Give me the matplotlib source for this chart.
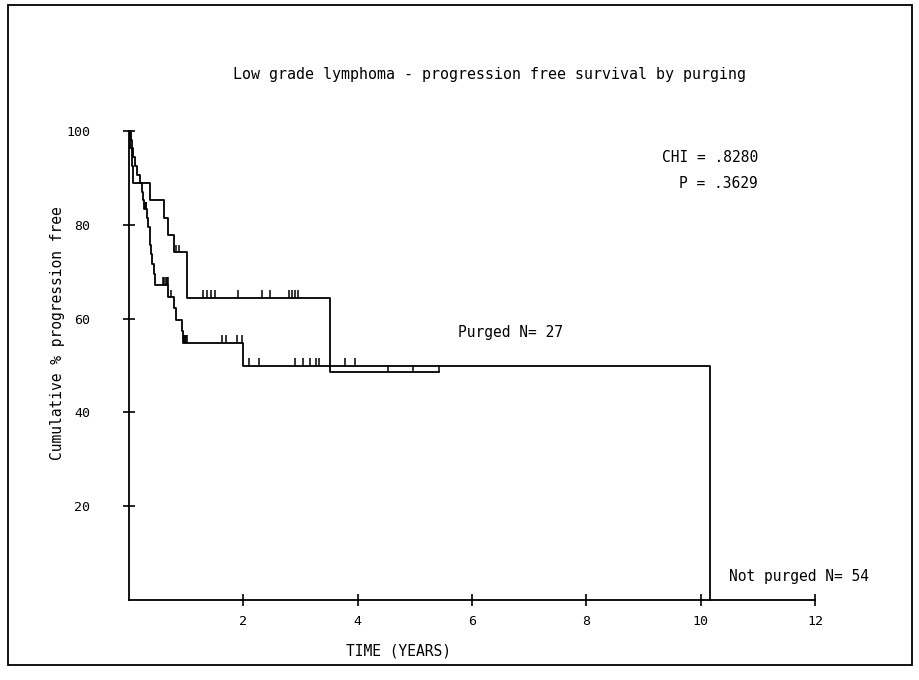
import matplotlib.pyplot as plt
import numpy as np
from matplotlib.patches import Rectangle

plt.rcParams["font.family"] = "DejaVu Sans Mono"
plt.rcParams["font.size"] = 10.5

# purged group, N=27: step times (years) and cumulative % after each step
purged_t = [0, 0.02, 0.05, 0.07, 0.36, 0.62, 0.68, 0.79, 1.01, 3.51, 5.42]
purged_s = [100, 96.3, 92.6, 88.9, 85.2, 81.5, 77.8, 74.1, 64.4, 48.6, 48.6]
purged_cens = [0.82, 0.87, 1.29, 1.36, 1.43, 1.50, 1.91, 2.33, 2.47, 2.80,
               2.85, 2.90, 2.95, 4.53, 4.97, 5.42]

# not purged group, N=54
notp_t = [0, 0.03, 0.05, 0.07, 0.10, 0.14, 0.19, 0.23, 0.25, 0.27, 0.32,
          0.34, 0.36, 0.37, 0.39, 0.41, 0.43, 0.45, 0.69, 0.79, 0.82, 0.92,
          0.95, 2.00, 10.17]
notp_s = [100, 98.1, 96.3, 94.4, 92.6, 90.7, 88.9, 87.0, 85.2, 83.3, 81.4,
          79.5, 77.6, 75.6, 73.7, 71.7, 69.6, 67.2, 64.6, 62.2, 59.7, 57.3,
          54.8, 49.9, 0]
notp_cens = [0.28, 0.29, 0.30, 0.60, 0.62, 0.64, 0.66, 0.68, 0.73, 0.96,
             0.98, 1.00, 1.02, 1.63, 1.70, 1.89, 1.98, 2.10, 2.27, 2.90,
             3.04, 3.16, 3.27, 3.32, 3.78, 3.95]

x_ticks = [2, 4, 6, 8, 10, 12]
y_ticks = [20, 40, 60, 80, 100]

title = "Low grade lymphoma - progression free survival by purging"
chi_text = "CHI = .8280"
p_text = "P = .3629"


def value_at(times, values, when):
    idx = np.searchsorted(times, when, side="right") - 1
    return np.asarray(values)[idx]


fig = plt.figure(figsize=(9.2, 6.8), dpi=100)
ax = fig.add_axes([129 / 920, 80 / 680, 686 / 920, 469 / 680])

for t, s, cens in [(purged_t, purged_s, purged_cens),
                   (notp_t, notp_s, notp_cens)]:
    ax.step(t, s, where="post", color="black", lw=1.3, clip_on=False)
    cs = value_at(t, s, cens)
    ax.vlines(cens, cs, cs + 1.6, color="black", lw=1.1)

ax.set_xlim(0, 12)
ax.set_ylim(0, 100)
ax.set_xticks(x_ticks)
ax.set_yticks(y_ticks)
for side in ["top", "right"]:
    ax.spines[side].set_visible(False)
for side in ["left", "bottom"]:
    ax.spines[side].set_linewidth(1.3)
ax.tick_params(axis="both", direction="inout", length=8, width=1.2,
               labelsize=9.5)
ax.tick_params(axis="x", pad=7)
ax.tick_params(axis="y", pad=24)

ax.set_xlabel("TIME (YEARS)")
ax.xaxis.set_label_coords((398 - 129) / 686, -0.092)
ax.set_ylabel("Cumulative % progression free")
ax.yaxis.set_label_coords(-0.093, 0.57)

fig.text(490 / 920, 1 - 75 / 680, title, ha="center", va="center",
         fontsize=10.8)
fig.text(758 / 920, 1 - 157 / 680, chi_text, ha="right", va="center")
fig.text(758 / 920, 1 - 184 / 680, p_text, ha="right", va="center")
ax.text(5.75, 57, "Purged N= 27", ha="left", va="center")
ax.text(10.5, 5, "Not purged N= 54", ha="left", va="center")

fig.add_artist(Rectangle((8 / 920, 1 - 665 / 680), 904 / 920, 660 / 680,
                         transform=fig.transFigure, fill=False,
                         edgecolor="black", lw=1.3))

fig.savefig("out.png", dpi=100)
